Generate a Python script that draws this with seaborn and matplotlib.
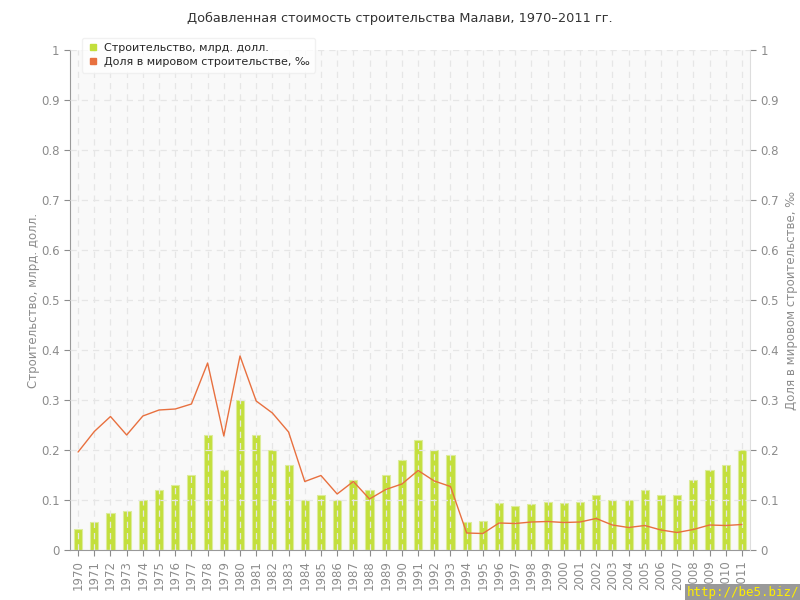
import numpy as np
import pandas as pd
import matplotlib
matplotlib.use('Agg')
import matplotlib.pyplot as plt
from matplotlib.lines import Line2D
import seaborn as sns

years = list(range(1970, 2012))
# Строительство, млрд. долл.
construction = [0.042, 0.056, 0.074, 0.078, 0.10, 0.12, 0.13, 0.15, 0.23, 0.16,
                0.30, 0.23, 0.20, 0.17, 0.10, 0.11, 0.10, 0.14, 0.12, 0.15,
                0.18, 0.22, 0.20, 0.19, 0.056, 0.058, 0.094, 0.089, 0.092, 0.097,
                0.094, 0.097, 0.11, 0.10, 0.10, 0.12, 0.11, 0.11, 0.14, 0.16,
                0.17, 0.20]
# Доля в мировом строительстве, ‰
share = [0.196, 0.237, 0.267, 0.230, 0.268, 0.280, 0.282, 0.292, 0.374, 0.228,
         0.388, 0.298, 0.274, 0.236, 0.137, 0.149, 0.112, 0.137, 0.102, 0.121,
         0.132, 0.159, 0.138, 0.127, 0.034, 0.033, 0.054, 0.053, 0.056, 0.057,
         0.055, 0.056, 0.063, 0.050, 0.045, 0.049, 0.040, 0.035, 0.041, 0.050,
         0.049, 0.051]
yticks = [0, 0.1, 0.2, 0.3, 0.4, 0.5, 0.6, 0.7, 0.8, 0.9, 1]
ytick_labels = ['0', '0.1', '0.2', '0.3', '0.4', '0.5', '0.6', '0.7', '0.8', '0.9', '1']

df = pd.DataFrame({'year': [str(y) for y in years], 'construction': construction,
                   'share': share, 'pos': np.arange(len(years))})

bar_color = '#c3df3c'
line_color = '#e8703f'
grey = '#8c8c8c'

sns.set_style('white')
plt.rcParams['font.family'] = ['DejaVu Sans']

fig = plt.figure(figsize=(8, 6), dpi=100)
ax = fig.add_axes([70/800, 50/600, 680/800, 500/600])
ax.set_facecolor('#f9f9f9')

sns.barplot(data=df, x='year', y='construction', color=bar_color, width=0.5,
            edgecolor='#dcec9a', linewidth=0.8, saturation=1, ax=ax, zorder=2)

ax2 = ax.twinx()
sns.lineplot(data=df, x='pos', y='share', color=line_color, linewidth=1.0, ax=ax2, zorder=3)

for a in (ax, ax2):
    a.set_ylim(0, 1)
    a.set_xlim(-0.5, len(years) - 0.5)
    a.set_yticks(yticks)
    a.set_yticklabels(ytick_labels)
    a.tick_params(axis='y', colors=grey, labelsize=8.5, length=4, width=0.8)
    for s in a.spines.values():
        s.set_visible(False)

ax.spines['left'].set_visible(True)
ax.spines['left'].set_color('#999999')
ax.spines['bottom'].set_visible(True)
ax.spines['bottom'].set_color('#999999')
ax2.spines['right'].set_visible(True)
ax2.spines['right'].set_color('#dddddd')

ax.set_xticks(np.arange(len(years)))
ax.set_xticklabels([str(y) for y in years], rotation=90)
ax.tick_params(axis='x', colors=grey, labelsize=8.5, length=4, width=0.8, bottom=True)
ax.tick_params(axis='y', left=True)
ax2.tick_params(axis='y', right=True)
ax2.tick_params(axis='x', bottom=False, labelbottom=False, top=False, labeltop=False)

# grid drawn above the bars
ax2.grid(True, axis='y', linestyle=(0, (5, 4)), color='#e6e6e6', linewidth=0.9, zorder=4)
for p in range(len(years)):
    ax2.axvline(p, linestyle=(0, (5, 4)), color='#e6e6e6', linewidth=0.9, zorder=1)

ax.set_xlabel('')
ax2.set_xlabel('')
ax.set_ylabel('Строительство, млрд. долл.', color=grey, fontsize=8.5, labelpad=1)
ax2.set_ylabel('Доля в мировом строительстве, ‰', color=grey, fontsize=8.5, labelpad=4)

fig.text(0.5, 0.97, 'Добавленная стоимость строительства Малави, 1970–2011 гг.',
         ha='center', va='center', fontsize=9.3, color='#333333')

handles = [Line2D([], [], marker='s', linestyle='none', color=bar_color, markersize=5),
           Line2D([], [], marker='s', linestyle='none', color=line_color, markersize=5)]
leg = fig.legend(handles, ['Строительство, млрд. долл.', 'Доля в мировом строительстве, ‰'],
                 loc='upper left', bbox_to_anchor=(76/800, 1 - 32/600), fontsize=8,
                 frameon=True, fancybox=True, shadow=False, handletextpad=0.5,
                 borderpad=0.5, labelspacing=0.35, handlelength=1.0)
leg.get_frame().set_edgecolor('#eeeeee')
leg.get_frame().set_facecolor('white')

fig.text(0.999, 0.002, 'http://be5.biz/', ha='right', va='bottom', fontsize=9,
         family='DejaVu Sans Mono', color='#ffee00',
         bbox=dict(facecolor='#999999', edgecolor='none', pad=1.5))

fig.savefig('out.png', dpi=100)
